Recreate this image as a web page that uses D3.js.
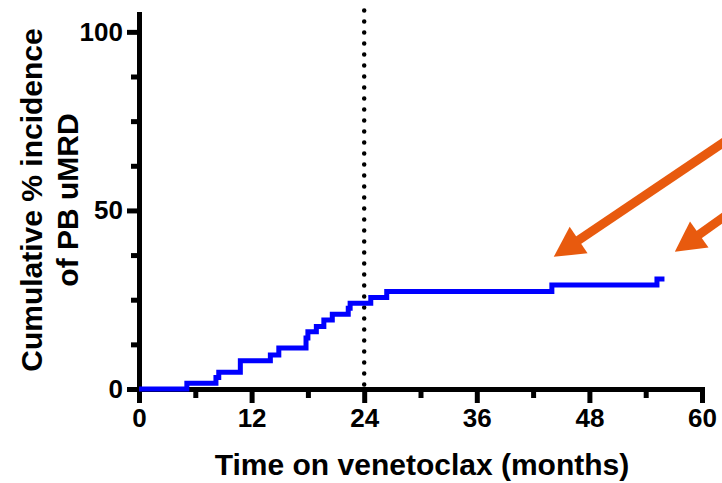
<!DOCTYPE html>
<html>
<head>
<meta charset="utf-8">
<script src="https://cdn.jsdelivr.net/npm/d3@7"></script>
<style>
  body { margin: 0; background: #fff; }
  svg text { font-family: "Liberation Sans", Arial, Helvetica, sans-serif; font-weight: bold; fill: #000; }
</style>
</head>
<body>
<svg id="chart" width="722" height="483"></svg>
<script>
// step times (months) and cumulative % incidence of PB uMRD
const months = [0, 5.1, 8.2, 8.5, 10.8, 14.0, 14.9, 17.8, 18.0, 18.9, 19.7, 20.6, 22.3, 22.5, 24.7, 26.4, 44.0, 55.2, 56.0]
const incidence = [0, 1.6, 3.2, 4.7, 7.9, 9.5, 11.5, 14.3, 16.0, 17.5, 19.3, 20.9, 22.6, 24.0, 25.6, 27.3, 29.1, 30.8, 30.8]

const xTicks = [0, 12, 24, 36, 48, 60]
const xMinorTicks = [6, 18, 30, 42, 54]
const yTicks = [0, 50, 100]
const yMinorTicks = [12.5, 25, 37.5, 62.5, 75, 87.5]
const landmarkMonth = 24

// annotation arrows: [tail month, tail %, tip month, tip %]
const arrows = [
    [66, 75.6, 44.2, 37.0],
    [66, 55.0, 57.1, 38.4]
]

const svg = d3.select('#chart')
const DIM = { left: 139, right: 702, top: 14, bottom: 389 }

const x = d3.scaleLinear().domain([0, 60]).range([DIM.left, DIM.right])
const y = d3.scaleLinear().domain([0, 105]).range([DIM.bottom, DIM.top])

const AXIS_W = 5

function styleAxis(g) {
    g.select('.domain').attr('stroke', '#000').attr('stroke-width', AXIS_W).attr('stroke-linecap', 'square')
    g.selectAll('.tick line').attr('stroke', '#000').attr('stroke-width', AXIS_W)
    g.selectAll('.tick text').style('font-size', '26px').attr('fill', '#000')
}

// x axis
svg.append('g')
    .attr('transform', `translate(0, ${DIM.bottom})`)
    .call(d3.axisBottom(x).tickValues(xMinorTicks).tickSize(9).tickSizeOuter(0).tickFormat(''))
    .call(styleAxis)
svg.append('g')
    .attr('transform', `translate(0, ${DIM.bottom})`)
    .call(d3.axisBottom(x).tickValues(xTicks).tickSize(14).tickSizeOuter(0).tickPadding(6))
    .call(styleAxis)

// y axis
svg.append('g')
    .attr('transform', `translate(${DIM.left}, 0)`)
    .call(d3.axisLeft(y).tickValues(yMinorTicks).tickSize(8).tickSizeOuter(0).tickFormat(''))
    .call(styleAxis)
svg.append('g')
    .attr('transform', `translate(${DIM.left}, 0)`)
    .call(d3.axisLeft(y).tickValues(yTicks).tickSize(12).tickSizeOuter(0).tickPadding(4))
    .call(styleAxis)

// dotted landmark line at 24 months
svg.append('line')
    .attr('x1', x(landmarkMonth)).attr('x2', x(landmarkMonth))
    .attr('y1', y(106)).attr('y2', y(0))
    .attr('stroke', '#000')
    .attr('stroke-width', 4.5)
    .attr('stroke-linecap', 'round')
    .attr('stroke-dasharray', '0,11')

// cumulative incidence step curve
const data = months.map((m, i) => ({ m: m, v: incidence[i] }))
const line = d3.line()
    .x(d => x(d.m))
    .y(d => y(d.v))
    .curve(d3.curveStepAfter)

svg.append('path')
    .datum(data)
    .attr('d', line)
    .attr('fill', 'none')
    .attr('stroke', '#0000ff')
    .attr('stroke-width', 5)

// orange arrows
const ARROW_COLOR = '#e85a0e'
arrows.forEach(a => {
    const x0 = x(a[0]), y0 = y(a[1]), x1 = x(a[2]), y1 = y(a[3])
    const len = Math.hypot(x1 - x0, y1 - y0)
    const ux = (x1 - x0) / len, uy = (y1 - y0) / len
    const headLen = 30, headHalf = 16
    const bx = x1 - ux * headLen, by = y1 - uy * headLen
    svg.append('line')
        .attr('x1', x0).attr('y1', y0)
        .attr('x2', bx + ux * 2).attr('y2', by + uy * 2)
        .attr('stroke', ARROW_COLOR)
        .attr('stroke-width', 9)
    svg.append('polygon')
        .attr('points', [
            [x1, y1],
            [bx - uy * headHalf, by + ux * headHalf],
            [bx + uy * headHalf, by - ux * headHalf]
        ].map(p => p.join(',')).join(' '))
        .attr('fill', ARROW_COLOR)
})

// axis titles
svg.append('text')
    .attr('x', 422)
    .attr('y', 475)
    .attr('text-anchor', 'middle')
    .style('font-size', '30px')
    .text('Time on venetoclax (months)')

svg.append('text')
    .attr('transform', 'translate(42, 200) rotate(-90)')
    .attr('text-anchor', 'middle')
    .style('font-size', '30px')
    .text('Cumulative % incidence')

svg.append('text')
    .attr('transform', 'translate(78, 200) rotate(-90)')
    .attr('text-anchor', 'middle')
    .style('font-size', '30px')
    .text('of PB uMRD')
</script>
</body>
</html>
